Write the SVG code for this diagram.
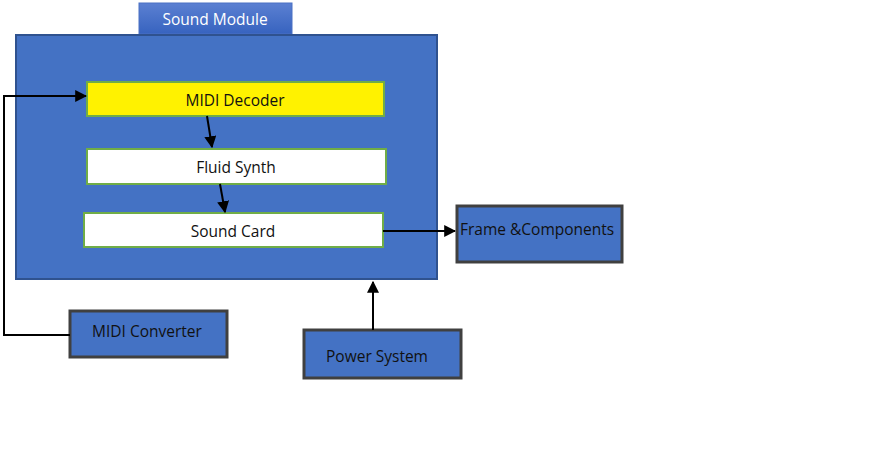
<svg xmlns="http://www.w3.org/2000/svg" width="874" height="458" viewBox="0 0 874 458">
<style>
text{font-family:"Open Sans","Noto Sans","DejaVu Sans",sans-serif;font-size:15.5px;fill:#111;dominant-baseline:central}
.inner{stroke:#70ad47;stroke-width:2}
.ext{fill:#4472c4;stroke:#404040;stroke-width:3}
.conn{fill:none;stroke:#000;stroke-width:2}
</style>
<defs>
<linearGradient id="tab" x1="0" y1="0" x2="0" y2="1">
<stop offset="0" stop-color="#5b80d2"/>
<stop offset="1" stop-color="#3763bf"/>
</linearGradient>
<marker id="ah" viewBox="0 0 10 10" refX="9" refY="5" markerWidth="6" markerHeight="6" orient="auto" markerUnits="strokeWidth">
<path d="M0,0 L10,5 L0,10 z" fill="#000"/>
</marker>
</defs>
<rect width="874" height="458" fill="#fff"/>
<g id="sound-module">
<rect x="139" y="3" width="153" height="31" fill="url(#tab)" stroke="#4a70c4" stroke-width="1"/>
<text x="215" y="19" text-anchor="middle" style="fill:#fff;font-size:15.5px">Sound Module</text>
<rect x="16" y="35" width="421" height="244" fill="#4472c4" stroke="#2f528f" stroke-width="2"/>
</g>
<g id="midi-decoder">
<rect class="inner" x="87" y="82" width="297" height="34" fill="#fff200"/>
<text x="235" y="100" text-anchor="middle">MIDI Decoder</text>
</g>
<g id="fluid-synth">
<rect class="inner" x="87" y="149" width="299" height="35" fill="#fff"/>
<text x="236" y="167" text-anchor="middle">Fluid Synth</text>
</g>
<g id="sound-card">
<rect class="inner" x="84" y="213" width="299" height="34" fill="#fff"/>
<text x="233" y="231" text-anchor="middle">Sound Card</text>
</g>
<g id="frame-components">
<rect class="ext" x="457" y="206" width="165" height="56"/>
<text x="460" y="229">Frame &amp;Components</text>
</g>
<g id="midi-converter">
<rect class="ext" x="70" y="311" width="157" height="46"/>
<text x="147" y="331" text-anchor="middle">MIDI Converter</text>
</g>
<g id="power-system">
<rect class="ext" x="304" y="330" width="157" height="48"/>
<text x="377" y="356" text-anchor="middle">Power System</text>
</g>
<g id="connectors">
<path class="conn" d="M207,116 L212,147" marker-end="url(#ah)"/>
<path class="conn" d="M220,184 L225,212" marker-end="url(#ah)"/>
<path class="conn" d="M383,231 L455,231" marker-end="url(#ah)"/>
<path class="conn" d="M373,330 L373,282" marker-end="url(#ah)"/>
<path class="conn" d="M70,335 L4,335 L4,96 L86,96" stroke="#333" marker-end="url(#ah)"/>
</g>
</svg>
